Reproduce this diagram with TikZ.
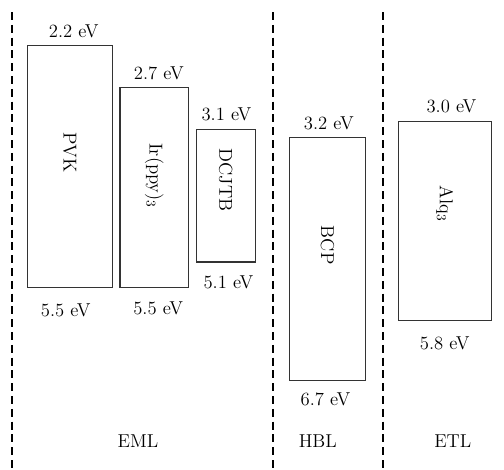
\documentclass[tikz,border=0pt]{standalone}
\usetikzlibrary{positioning}
\definecolor{levelink}{HTML}{333333}
\tikzset{
  levelbox/.style={draw=levelink,rectangle,line width=1.1pt,inner sep=0pt},
  levelvalue/.style={inner sep=0pt,font=\fontsize{14}{16}\selectfont},
  molname/.style={inner sep=0pt,rotate=-90,font=\fontsize{14}{16}\selectfont},
  layername/.style={inner sep=0pt,font=\fontsize{14}{16}\selectfont},
  layerdiv/.style={draw=black,line width=1.2pt,dash pattern=on 6pt off 3.6pt},
}

\begin{document}
\begin{tikzpicture}[x=0.75pt,y=-0.75pt]
        \useasboundingbox (0,0) rectangle (504,469);
        % layer dividers
        \coordinate (div1top) at (11.7,12);  \coordinate (div1bot) at (11.7,469);
        \coordinate (div2top) at (272.7,12); \coordinate (div2bot) at (272.7,469);
        \coordinate (div3top) at (382.7,12); \coordinate (div3bot) at (382.7,469);
        \draw[layerdiv] (div1top) -- (div1bot);
        \draw[layerdiv] (div2top) -- (div2bot);
        \draw[layerdiv] (div3top) -- (div3bot);
        % energy levels
        \node[levelbox,minimum width=63.8pt,minimum height=181.5pt] (pvk) at (69.8,166.7) {};
        \node[levelbox,minimum width=51.2pt,minimum height=150pt] (irppy) at (154.2,187.7) {};
        \node[levelbox,minimum width=44.2pt,minimum height=99.2pt] (dcjtb) at (225.8,195.8) {};
        \node[levelbox,minimum width=57.3pt,minimum height=182.2pt] (bcp) at (327.5,259.2) {};
        \node[levelbox,minimum width=69.8pt,minimum height=149.6pt] (alq) at (444.8,221) {};
        \node[molname] (pvkname) at ([yshift=10.5pt]pvk.center) {PVK};
        \node[molname] (irppyname) at ([yshift=9pt]irppy.center) {Ir(ppy)$_3$};
        \node[molname] (dcjtbname) at ([yshift=12pt]dcjtb.center) {DCJTB};
        \node[molname] (bcpname) at ([yshift=10.5pt]bcp.center) {BCP};
        \node[molname] (alqname) at ([yshift=13pt]alq.center) {Alq$_3$};
        % LUMO / HOMO values
        \node[levelvalue,above=5pt of pvk,xshift=3pt] (pvklumo) {2.2 eV};
        \node[levelvalue,below=11pt of pvk,xshift=-3pt] (pvkhomo) {5.5 eV};
        \node[levelvalue,above=5pt of irppy,xshift=3.5pt] (irppylumo) {2.7 eV};
        \node[levelvalue,below=9.5pt of irppy,xshift=3pt] (irppyhomo) {5.5 eV};
        \node[levelvalue,above=5.5pt of dcjtb,xshift=0.5pt] (dcjtblumo) {3.1 eV};
        \node[levelvalue,below=9.5pt of dcjtb,xshift=2pt] (dcjtbhomo) {5.1 eV};
        \node[levelvalue,above=5.2pt of bcp,xshift=1pt] (bcplumo) {3.2 eV};
        \node[levelvalue,below=8.5pt of bcp,xshift=-1.5pt] (bcphomo) {6.7 eV};
        \node[levelvalue,above=5.2pt of alq,xshift=5pt] (alqlumo) {3.0 eV};
        \node[levelvalue,below=11pt of alq] (alqhomo) {5.8 eV};
        % layers
        \node[layername] (eml) at (138,441) {EML};
        \node[layername] (hbl) at (317.8,441) {HBL};
        \node[layername] (etl) at (452.8,441) {ETL};
\end{tikzpicture}
\end{document}
